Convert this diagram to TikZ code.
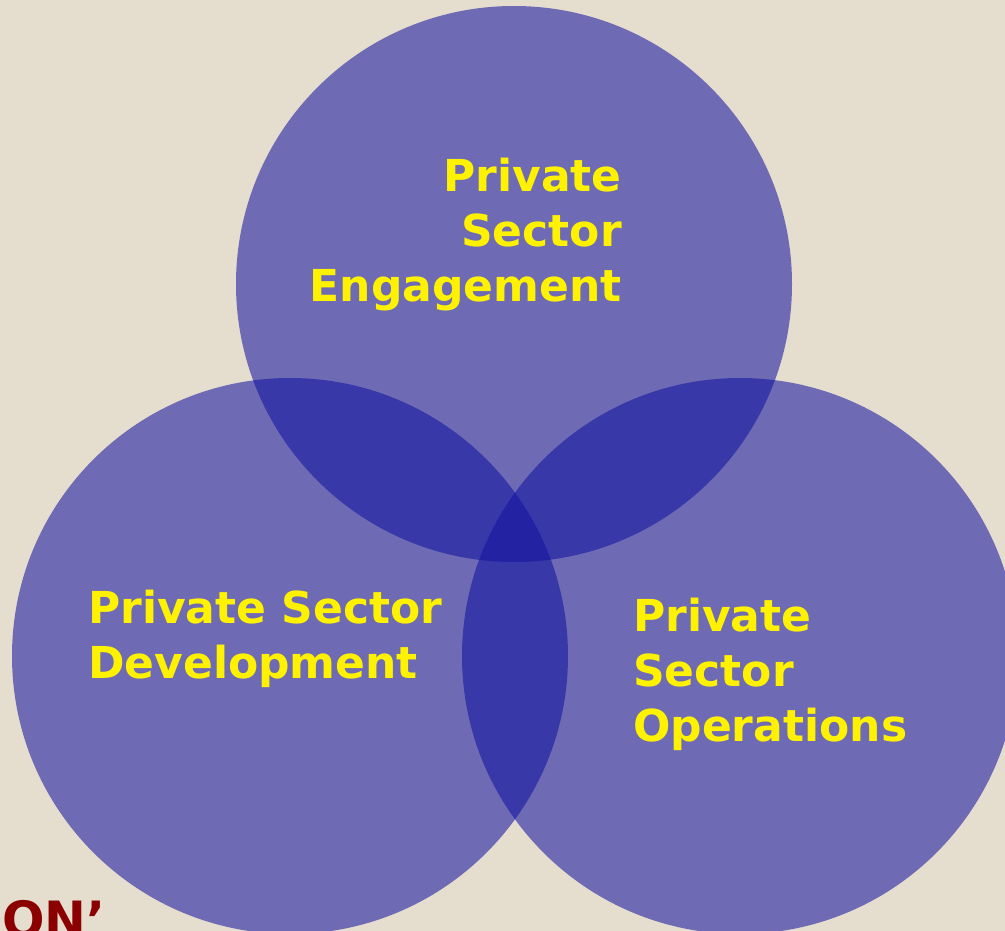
\documentclass[tikz,border=0pt]{standalone}
\usepackage{fontspec}
\setmainfont{DejaVu Sans}
\usepackage{tikz}

\definecolor{paper}{RGB}{229,221,206}
\definecolor{venn}{RGB}{17,17,160}
\definecolor{darkred}{RGB}{139,0,0}

\tikzset{
	ring/.style={fill=venn, fill opacity=0.56, draw=none},
	label/.style={text=yellow, font=\fontsize{44}{55}\selectfont\bfseries, inner sep=0pt},
}

\begin{document}
\begin{tikzpicture}[x=1pt, y=-1pt]
	\fill[paper] (0, 0) rectangle (1005, 931);
	\useasboundingbox (0, 0) rectangle (1005, 931);

	\fill[ring] (514, 284) circle [radius=278];
	\fill[ring] (290, 656) circle [radius=278];
	\fill[ring] (740, 656) circle [radius=278];

	\node[label, align=right, anchor=north east] (engage) at (622, 158) {Private\\Sector\\Engagement};
	\node[label, align=left, anchor=north west] (develop) at (88, 590) {Private Sector\\Development};
	\node[label, align=left, anchor=north west] (operate) at (633, 598) {Private\\Sector\\Operations};

	\node[text=darkred, font=\fontsize{50}{60}\selectfont\bfseries, anchor=base east, inner sep=0pt] (cut) at (106, 937) {ON’};
\end{tikzpicture}
\end{document}
